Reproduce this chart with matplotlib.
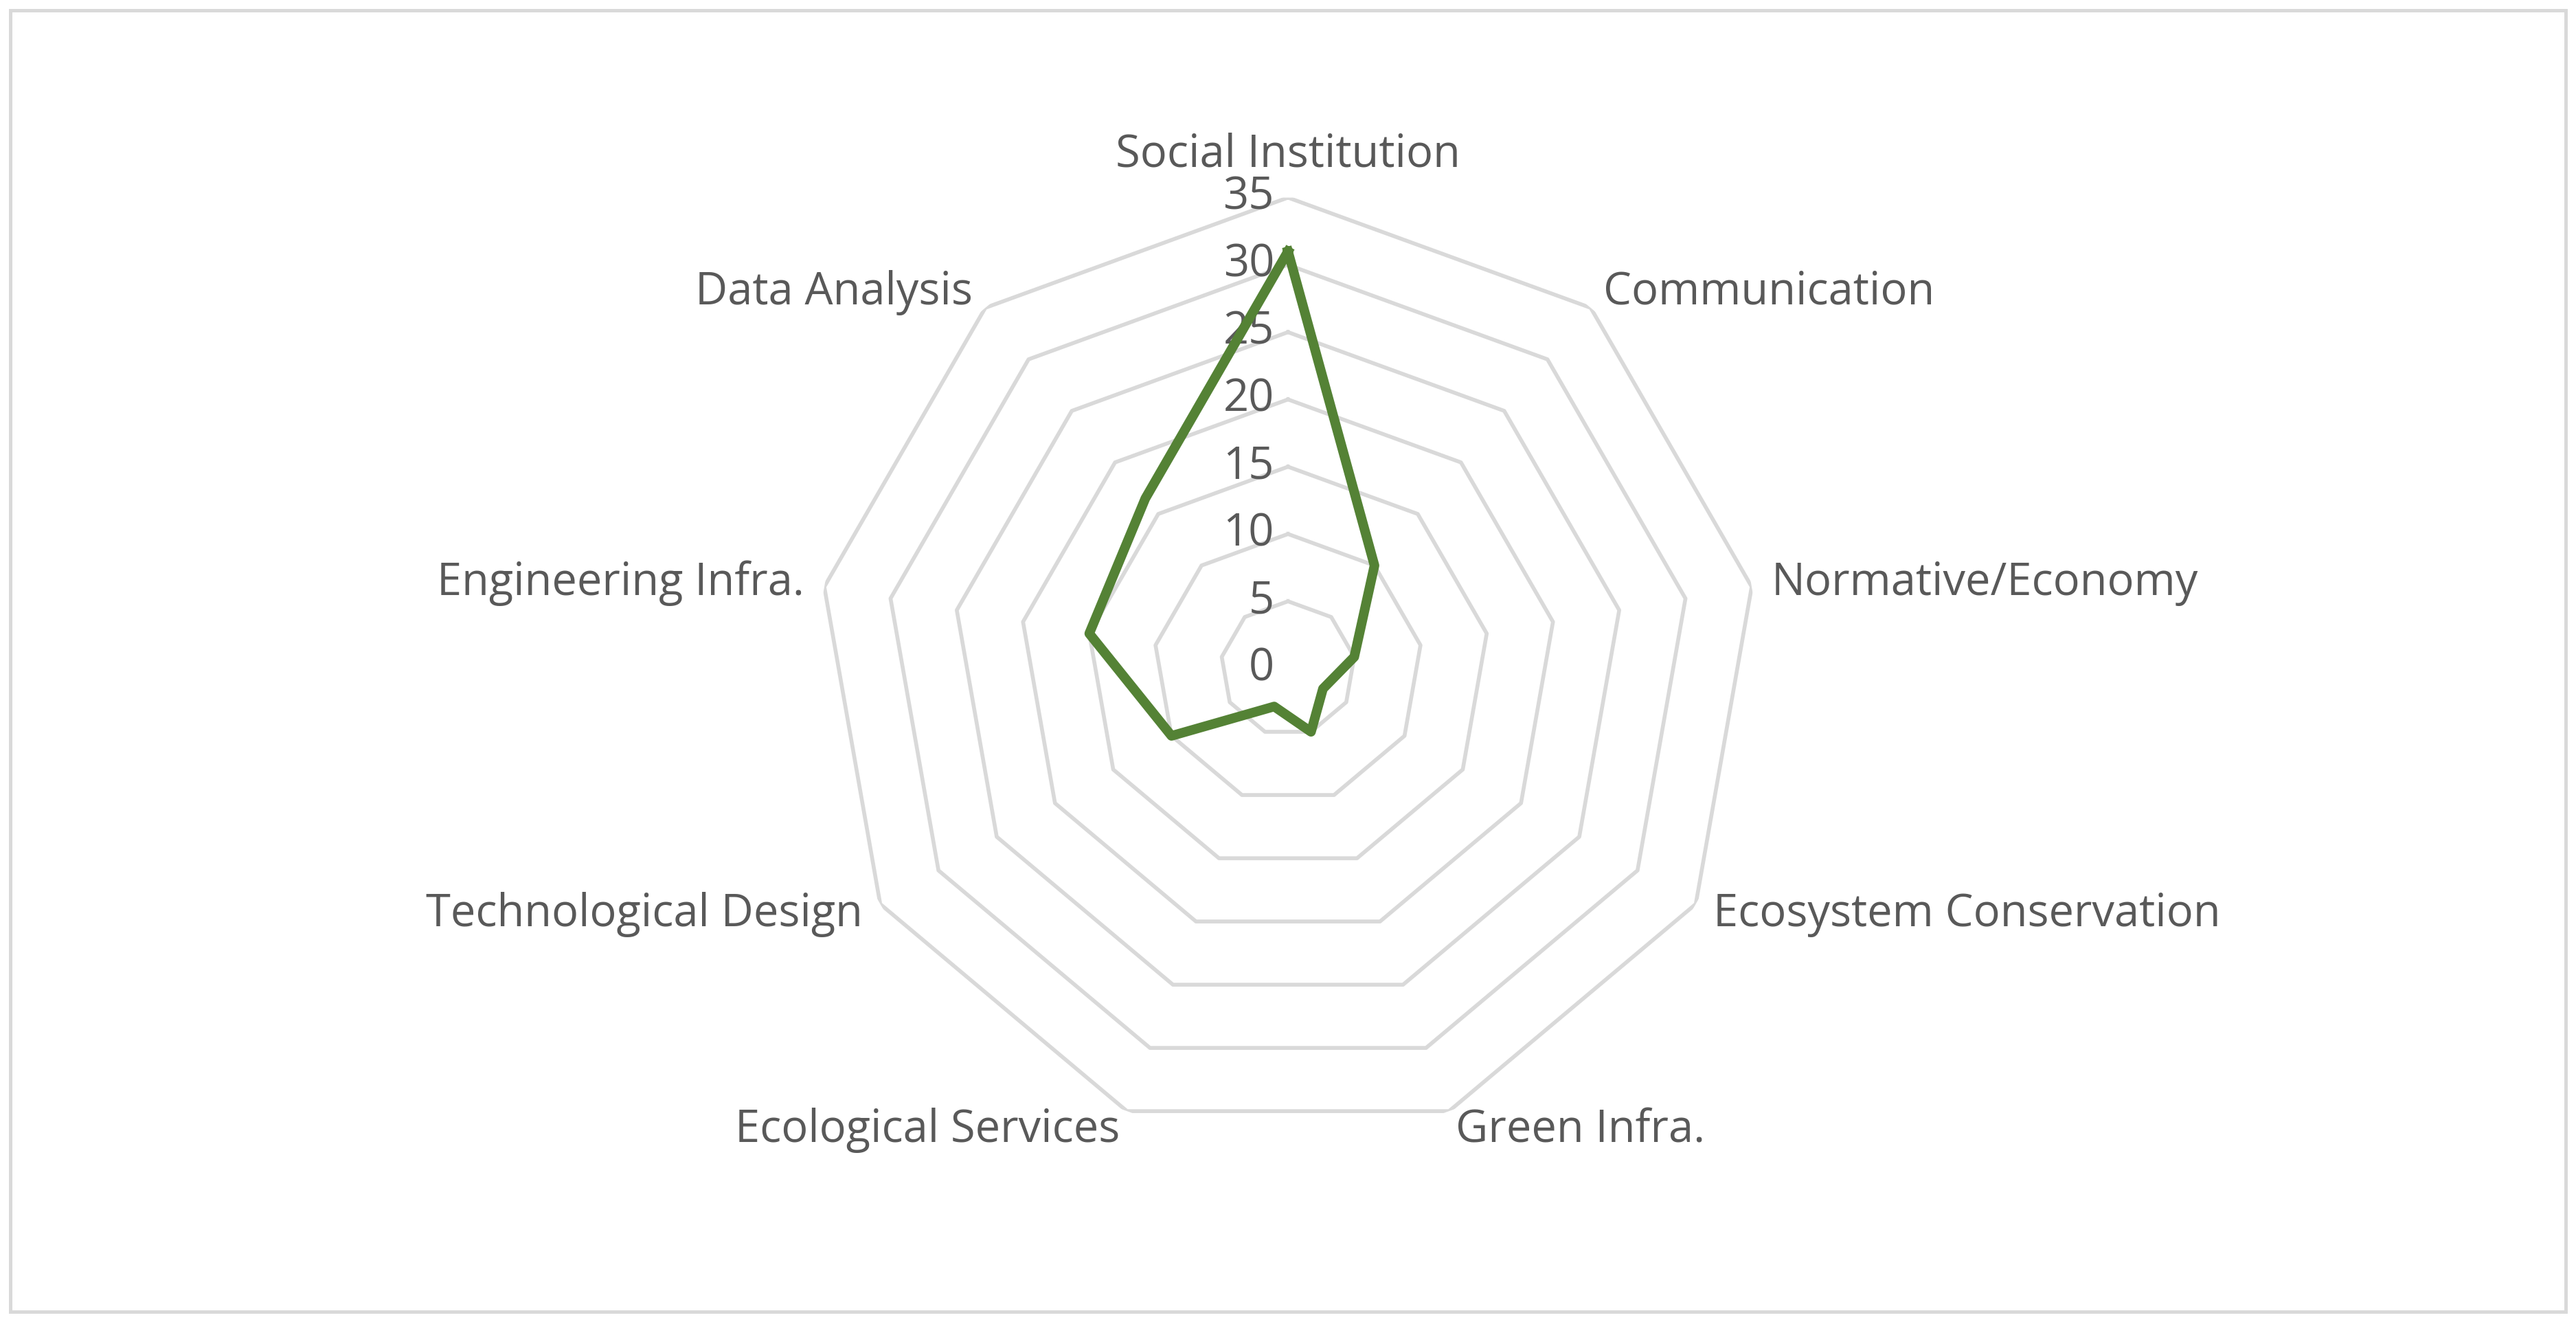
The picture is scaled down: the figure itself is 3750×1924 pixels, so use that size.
import numpy as np
import matplotlib
matplotlib.use('Agg')
import matplotlib.pyplot as plt
from matplotlib.patches import Rectangle

categories = ['Social Institution', 'Communication', 'Normative/Economy', 'Ecosystem Conservation',
              'Green Infra.', 'Ecological Services', 'Technological Design', 'Engineering Infra.',
              'Data Analysis']
values = [31, 10, 5, 3, 5, 3, 10, 15, 16.5]
ticks = [0, 5, 10, 15, 20, 25, 30, 35]

plt.rcParams['font.family'] = ['Open Sans', 'DejaVu Sans']
txt = '#595959'
gridc = '#d9d9d9'
fs = 19.5

fig = plt.figure(figsize=(15.625, 8.017), dpi=240)
fig.patches.append(Rectangle((0.004, 0.008), 0.992, 0.984, transform=fig.transFigure,
                             fill=False, edgecolor=gridc, linewidth=1.5))

ax = fig.add_axes([0.5 - 0.1828, 0.494 - 0.356, 0.3656, 0.7125], projection='polar')
ax.set_theta_zero_location('N')
ax.set_theta_direction(-1)
ax.set_ylim(0, 35)
ax.axis('off')

n = len(categories)
ang = np.arange(n) * 2 * np.pi / n
closed = np.append(ang, ang[0])

for t in ticks[1:]:
    ax.plot(closed, [t] * (n + 1), color=gridc, lw=1.7, zorder=1)
for t in ticks:
    ax.annotate(str(t), (0, t), xytext=(-6, 0), textcoords='offset points',
                ha='right', va='center', fontsize=fs, color=txt)

ax.plot(closed, values + [values[0]], color='#548235', lw=4.2, zorder=3,
        solid_joinstyle='round')

for a, c in zip(ang, categories):
    s = np.sin(a)
    if abs(s) < 1e-6:
        ax.text(a, 36.5, c, ha='center', va='bottom', fontsize=fs, color=txt)
    else:
        ax.text(a, 36.5, c, ha='left' if s > 0 else 'right', va='center',
                fontsize=fs, color=txt)

fig.savefig('out.png', dpi=240)
